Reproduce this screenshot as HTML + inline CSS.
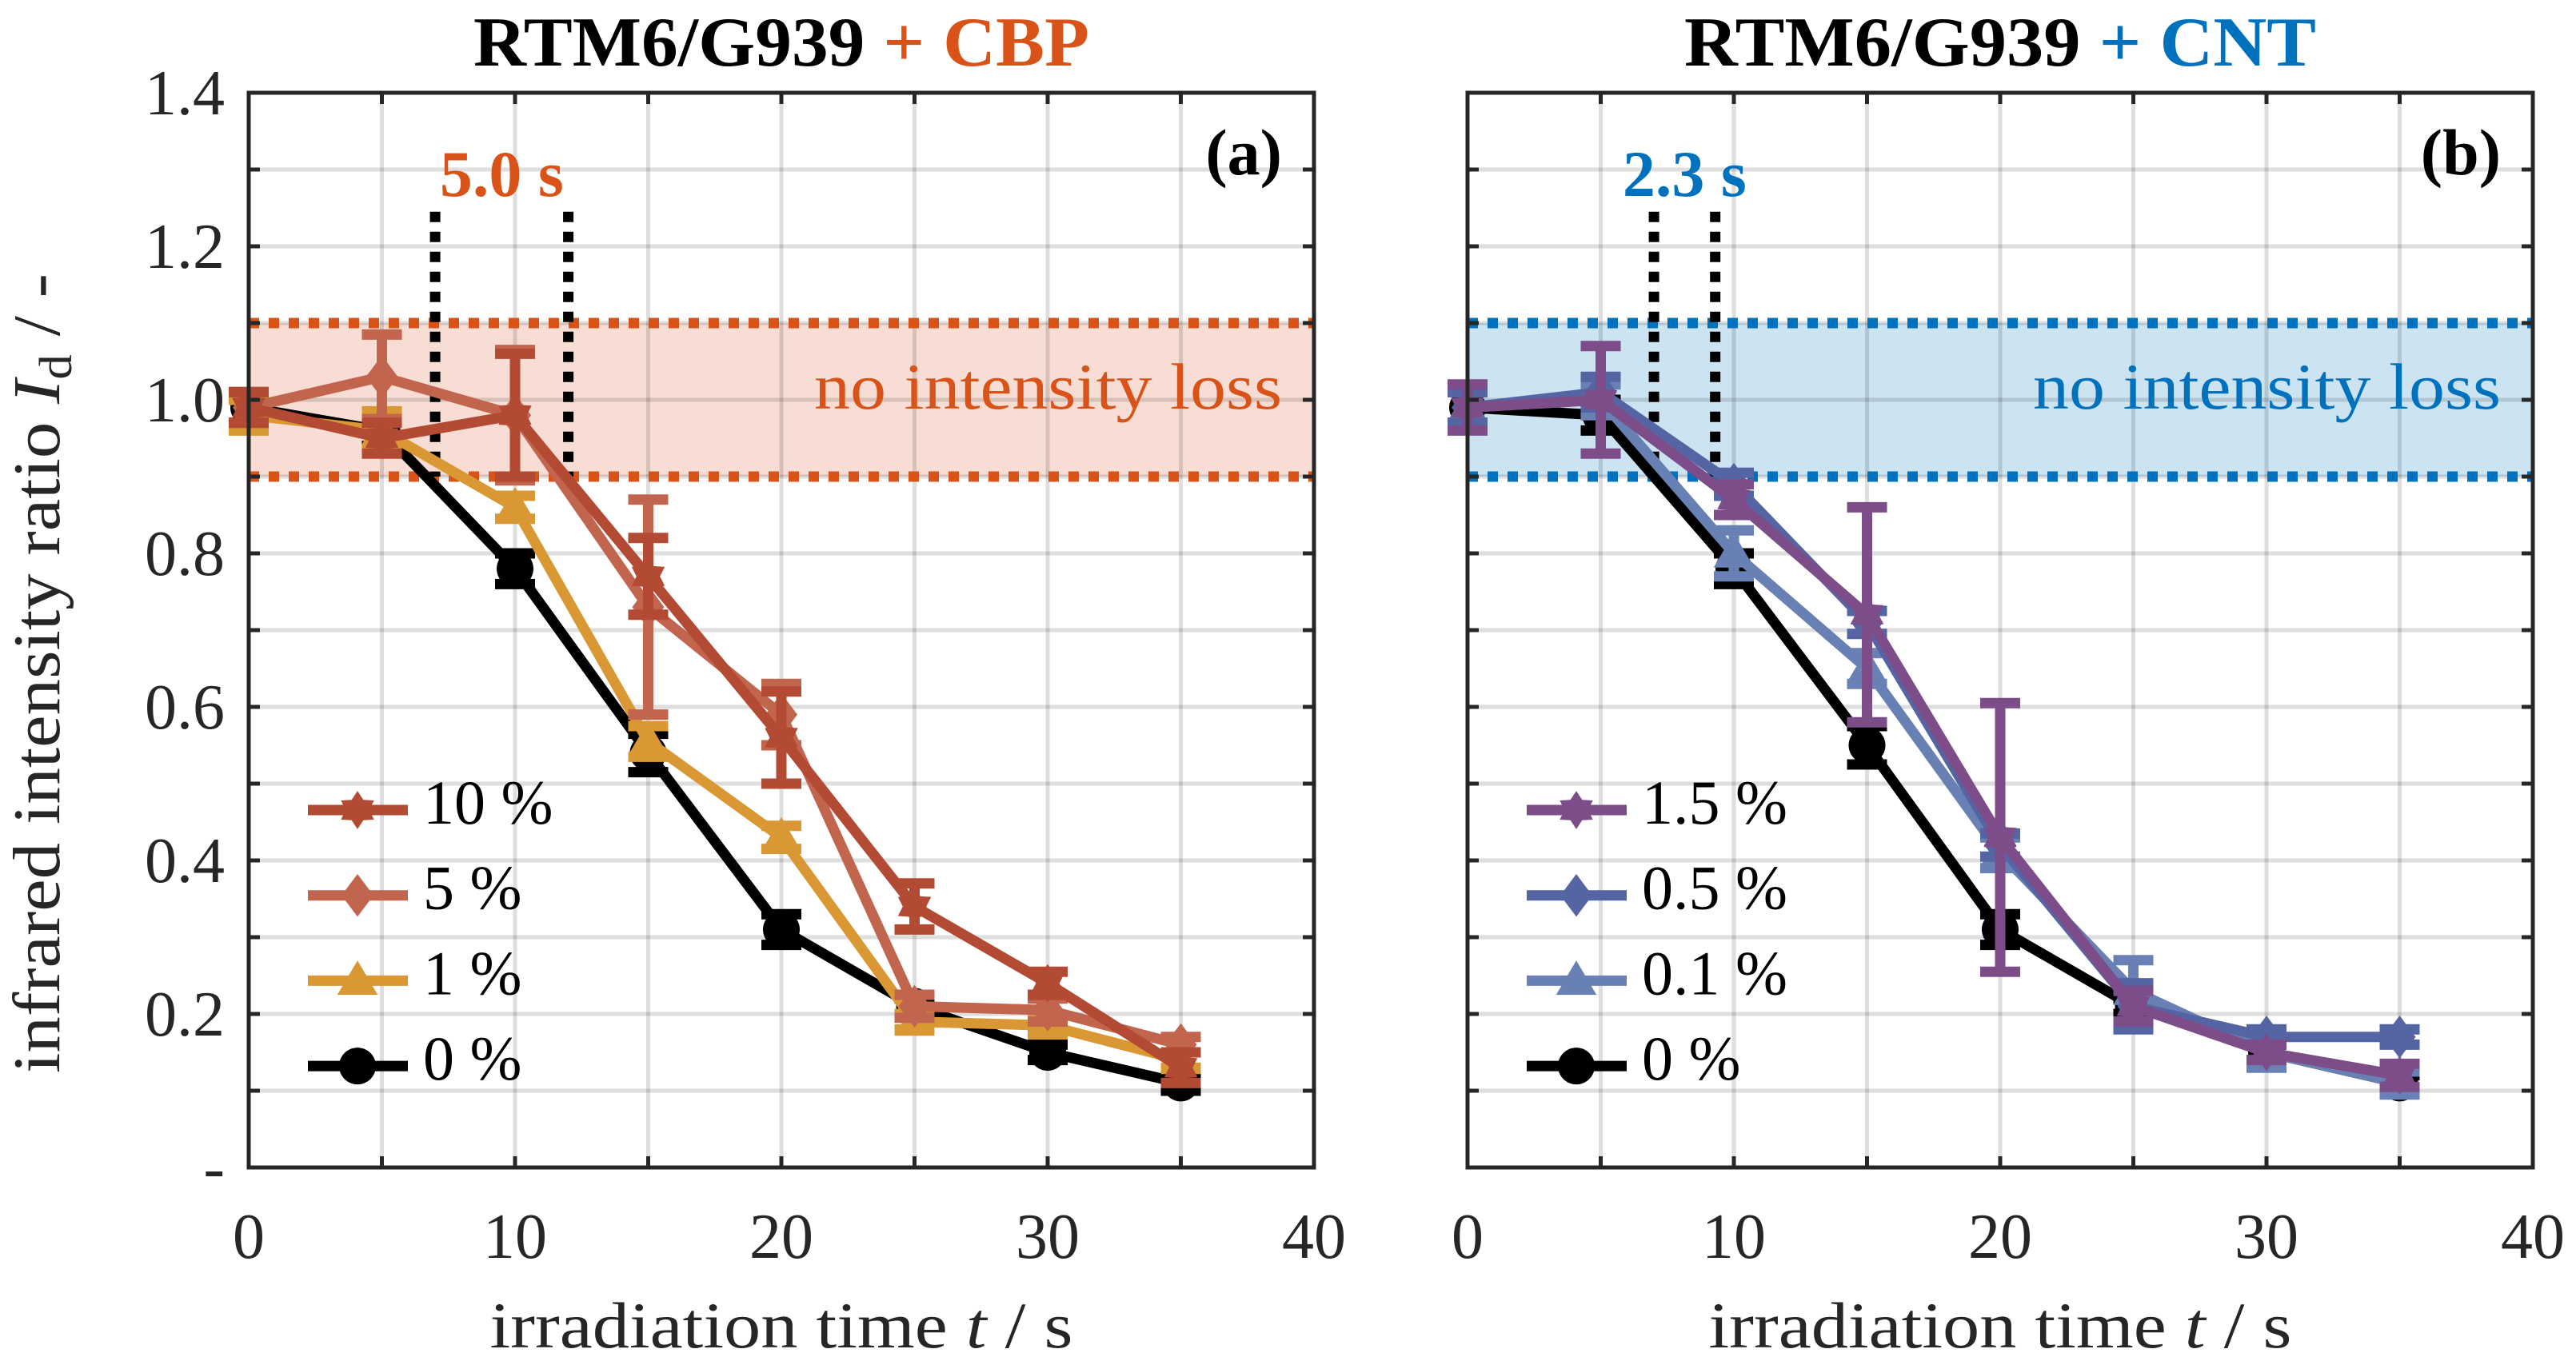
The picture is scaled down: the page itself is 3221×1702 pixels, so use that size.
<!DOCTYPE html>
<html><head><meta charset="utf-8"><style>
html,body{margin:0;padding:0;background:#fff}
svg{display:block}
text{font-family:"Liberation Serif",serif}
</style></head><body>
<svg id="chart" width="3221" height="1702" viewBox="0 0 3221 1702" xmlns="http://www.w3.org/2000/svg"></svg>
<script>
// ---- data ----
const times = [0,5,10,15,20,25,30,35];
const xTicks = [0,10,20,30,40];
const yTicks = [0.2,0.4,0.6,0.8,1.0,1.2,1.4];
const yTickLabels = ["-","0.2","0.4","0.6","0.8","1.0","1.2","1.4"];
// panel a (CBP)
const a_names = ["10 %","5 %","1 %","0 %"];
const a10 = [0.99,0.95,0.98,0.77,0.56,0.34,0.24,0.13];
const a10err = [0.02,0.02,0.08,0.05,0.06,0.03,0.015,0.02];
const a5 = [0.99,1.03,0.98,0.73,0.59,0.21,0.205,0.16];
const a5err = [0.02,0.055,0.085,0.14,0.04,0.015,0.015,0.01];
const a1 = [0.98,0.96,0.86,0.555,0.43,0.19,0.185,0.14];
const a1err = [0.02,0.025,0.015,0.02,0.015,0.01,0.01,0.01];
const a0 = [0.99,0.96,0.78,0.54,0.31,0.21,0.15,0.11];
const a0err = [0.02,0.02,0.02,0.025,0.02,0.01,0.01,0.01];
// panel b (CNT)
const b_names = ["1.5 %","0.5 %","0.1 %","0 %"];
const b15 = [0.99,1.0,0.87,0.72,0.43,0.21,0.15,0.12];
const b15err = [0.03,0.07,0.02,0.14,0.175,0.02,0.01,0.015];
const b05 = [0.99,1.01,0.89,0.71,0.42,0.21,0.17,0.17];
const b05err = [0.02,0.02,0.015,0.015,0.015,0.03,0.01,0.01];
const b01 = [0.99,1.0,0.80,0.65,0.41,0.23,0.15,0.11];
const b01err = [0.02,0.02,0.03,0.02,0.02,0.04,0.02,0.015];
const b0 = [0.99,0.98,0.78,0.55,0.31,0.21,0.15,0.11];
const b0err = [0.02,0.02,0.02,0.025,0.02,0.01,0.01,0.01];
const bandLow = 0.9, bandHigh = 1.1;
const aMarks = [7.0, 12.0];
const bMarks = [7.0, 9.3];

const NS="http://www.w3.org/2000/svg";
const svg=document.getElementById('chart');
function mk(tag,attrs,parent){const e=document.createElementNS(NS,tag);for(const k in attrs)e.setAttribute(k,attrs[k]);(parent||svg).appendChild(e);return e;}

const TOP=116,BOT=1460;
function yS(v){return BOT-(v/1.4)*(BOT-TOP);}

function marker(g,type,cx,cy,color,s){
  let el;
  if(type==='circle'){el=mk('circle',{cx:cx,cy:cy,r:s*0.5,fill:color},g);}
  else if(type==='diamond'){const r=s*0.58;el=mk('polygon',{points:`${cx},${cy-r} ${cx+r*0.75},${cy} ${cx},${cy+r} ${cx-r*0.75},${cy}`,fill:color},g);}
  else if(type==='triangle'){const r=s*0.55;el=mk('polygon',{points:`${cx},${cy-r} ${cx+r},${cy+r*0.7} ${cx-r},${cy+r*0.7}`,fill:color},g);}
  else {let p=[];for(let i=0;i<12;i++){const ang=Math.PI/6*i-Math.PI/2;const rr=i%2?s*0.32:s*0.52;p.push((cx+rr*Math.cos(ang))+','+(cy+rr*Math.sin(ang)));}el=mk('polygon',{points:p.join(' '),fill:color},g);}
  return el;
}

function panel(opt){
  const L=opt.left,R=opt.left+1332;
  const xS=v=>L+(v/40)*(R-L);
  const g=mk('g',{});
  
  
  const band=mk('rect',{x:L,y:yS(bandHigh),width:R-L,height:yS(bandLow)-yS(bandHigh),fill:opt.bandFill},g);
  
  
  const grid=mk('g',{stroke:'#000','stroke-opacity':0.13,'stroke-width':5},g);
  
  
  for(let t=5;t<40;t+=5)mk('line',{x1:xS(t),x2:xS(t),y1:TOP,y2:BOT},grid);
  for(let k=1;k<14;k++){const v=k/10;mk('line',{x1:L,x2:R,y1:yS(v),y2:yS(v)},grid);}
  [bandLow,bandHigh].forEach(v=>{const l=mk('line',{x1:L,x2:R,y1:yS(v),y2:yS(v),stroke:opt.accent,'stroke-width':13,'stroke-dasharray':'13 12'},g);
    
    });
  opt.marks.forEach(m=>{const l=mk('line',{x1:xS(m),x2:xS(m),y1:yS(1.245),y2:yS(0.9),stroke:'#000','stroke-width':13,'stroke-dasharray':'13 12'},g);
    
    });
  const dl=mk('text',{x:(xS(opt.marks[0])+xS(opt.marks[1]))/2,y:245,'text-anchor':'middle','font-size':82,fill:opt.accent,'font-weight':'bold'},g);
  dl.textContent=opt.delta;
  
  
  const nl=mk('text',{x:R-40,y:511,'text-anchor':'end','font-size':82,fill:opt.accent,textLength:585,lengthAdjust:'spacingAndGlyphs'},g);
  nl.textContent='no intensity loss';
  
  
  for(let si=opt.series.length-1;si>=0;si--){
    const s=opt.series[si];
    const sg=mk('g',{},g);
    
    
    const pts=times.map((t,i)=>xS(t)+','+yS(s.vals[i])).join(' ');
    const pl=mk('polyline',{points:pts,fill:'none',stroke:s.color,'stroke-width':13,'stroke-linejoin':'round'},sg);
    
    
    times.forEach((t,i)=>{
      const x=xS(t),y1=yS(s.vals[i]+s.err[i]),y2=yS(s.vals[i]-s.err[i]);
      const eb=mk('path',{d:`M${x},${y1}V${y2}M${x-25},${y1}H${x+25}M${x-25},${y2}H${x+25}`,stroke:s.color,'stroke-width':13,fill:'none'},sg);
      
      
      const mm=marker(sg,s.marker,x,yS(s.vals[i]),s.color,46);
      
      
    });
  }
  const lg=mk('g',{},g);
  
  
  opt.series.forEach((s,i)=>{
    const y=1013+i*106.7;
    const e=mk('g',{},lg);
    
    
    mk('line',{x1:L+74,x2:L+199,y1:y,y2:y,stroke:s.color,'stroke-width':13},e);
    marker(e,s.marker,L+136,y,s.color,46);
    const t=mk('text',{x:L+218,y:y+17,'font-size':78,fill:'#000'},e);
    t.textContent=s.label;
  });
  const box=mk('rect',{x:L,y:TOP,width:R-L,height:BOT-TOP,fill:'none',stroke:'#262626','stroke-width':5},g);
  
  
  const tk=mk('g',{stroke:'#262626','stroke-width':5},g);
  
  
  for(let t=5;t<40;t+=5){mk('line',{x1:xS(t),x2:xS(t),y1:BOT,y2:BOT-14},tk);mk('line',{x1:xS(t),x2:xS(t),y1:TOP,y2:TOP+14},tk);}
  for(let k=1;k<14;k++){const v=k/10;mk('line',{x1:L,x2:L+14,y1:yS(v),y2:yS(v)},tk);mk('line',{x1:R,x2:R-14,y1:yS(v),y2:yS(v)},tk);}
  xTicks.forEach(v=>{const t=mk('text',{x:xS(v),y:1573,'text-anchor':'middle','font-size':80,fill:'#262626'},g);
    t.textContent=String(v);
    
    });
  if(opt.yLabels){
    [0].concat(yTicks).forEach((v,i)=>{const t=mk('text',{x:L-30,y:yS(v)+27,'text-anchor':'end','font-size':80,fill:'#262626'},g);
      t.textContent=yTickLabels[i];
      
      });
  }
  const xt=mk('text',{x:(L+R)/2,y:1685,'text-anchor':'middle','font-size':82,fill:'#262626',textLength:729,lengthAdjust:'spacingAndGlyphs'},g);
  xt.innerHTML='irradiation time <tspan font-style="italic">t</tspan> / s';
  
  
  const ti=mk('text',{x:(L+R)/2,y:82,'text-anchor':'middle','font-size':88,'font-weight':'bold',fill:'#000',textLength:opt.titleLen,lengthAdjust:'spacingAndGlyphs'},g);
  ti.innerHTML='RTM6/G939 <tspan fill="'+opt.accent+'">+ '+opt.additive+'</tspan>';
  
  
  const pl=mk('text',{x:R-40,y:218,'text-anchor':'end','font-size':82,'font-weight':'bold',fill:'#000'},g);
  pl.textContent=opt.letter;
  
  
}

panel({name:'panel-a-cbp',left:311,accent:'#d95319',bandFill:'#f7ddd3',delta:'5.0 s',marks:aMarks,additive:'CBP',letter:'(a)',yLabels:true,titleLen:770,
  series:[{label:a_names[0],vals:a10,err:a10err,color:'#b34a33',marker:'star'},
          {label:a_names[1],vals:a5,err:a5err,color:'#c2654e',marker:'diamond'},
          {label:a_names[2],vals:a1,err:a1err,color:'#d99833',marker:'triangle'},
          {label:a_names[3],vals:a0,err:a0err,color:'#000000',marker:'circle'}]});
panel({name:'panel-b-cnt',left:1835,accent:'#0072bd',bandFill:'#cce3f2',delta:'2.3 s',marks:bMarks,additive:'CNT',letter:'(b)',yLabels:false,titleLen:790,
  series:[{label:b_names[0],vals:b15,err:b15err,color:'#7d4d8a',marker:'star'},
          {label:b_names[1],vals:b05,err:b05err,color:'#5565a3',marker:'diamond'},
          {label:b_names[2],vals:b01,err:b01err,color:'#6880b3',marker:'triangle'},
          {label:b_names[3],vals:b0,err:b0err,color:'#000000',marker:'circle'}]});

const yt=mk('text',{transform:'translate(74,842) rotate(-90)','text-anchor':'middle','font-size':84,fill:'#262626',textLength:1000,lengthAdjust:'spacingAndGlyphs'});
yt.innerHTML='infrared intensity ratio <tspan font-style="italic">I</tspan><tspan font-size="58" dy="15">d</tspan><tspan dy="-15"> / -</tspan>';


</script>
</body></html>
